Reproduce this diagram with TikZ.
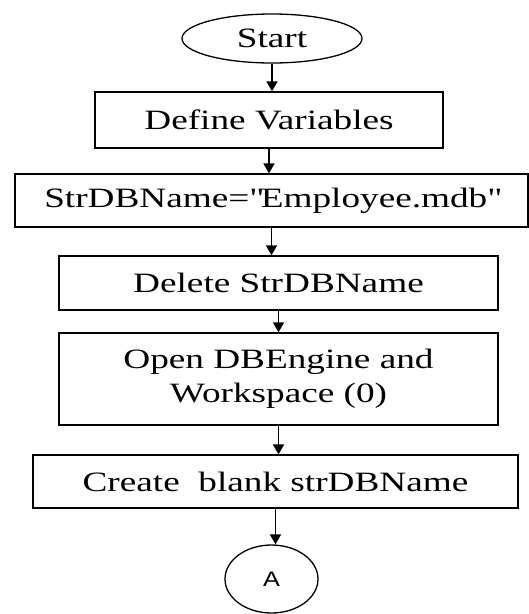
\documentclass[tikz,border=0pt]{standalone}
\usepackage{fontspec}
\setmainfont{Liberation Serif}[FakeStretch=1.33]
\setsansfont{Liberation Sans}[FakeStretch=1.2]
\usetikzlibrary{shapes.geometric,arrows.meta}
\newcommand\straightq{\XeTeXglyph\XeTeXcharglyph"22\relax}
\begin{document}
\begin{tikzpicture}[x=1pt,y=-1pt]
			\tikzstyle{e} = [draw, shape=ellipse, inner sep=0pt, line width=1.3pt]
			\tikzstyle{r} = [draw, shape=rectangle, inner sep=0pt, line width=1.3pt, align=center, font=\fontsize{28}{34}\selectfont]
			\tikzstyle{a} = [-{Triangle[width=11pt,length=10pt]}, line width=1.7pt]
			\useasboundingbox (0,0) rectangle (529,614);
			\node[e, minimum width=180pt, minimum height=49pt, font=\fontsize{28}{34}\selectfont] (start) at (272,38.5) {Start};
			\node[r, minimum width=348pt, minimum height=56pt] (define) at (269,120) {Define Variables};
			\node[r, minimum width=513pt, minimum height=53pt] (dbname) at (271.5,200.5) {StrDBName=\straightq Employee.mdb\straightq};
			\node[r, minimum width=439pt, minimum height=54pt] (delete) at (278.5,283) {Delete StrDBName};
			\node[r, minimum width=439pt, minimum height=92pt] (open) at (278.5,379) {Open DBEngine and\\Workspace (0)};
			\node[r, minimum width=485pt, minimum height=53pt] (create) at (275.5,481.5) {Create~~blank strDBName};
			\node[e, minimum width=93pt, minimum height=68pt, font=\sffamily\fontsize{21}{25}\selectfont] (conA) at (271.5,579) {A};
			\draw[a] (start.south) -- (start.south |- define.north);
			\draw[a] (define.south) -- (define.south |- dbname.north);
			\draw[a] (dbname.south) -- (dbname.south |- delete.north);
			\draw[a] (delete.south) -- (delete.south |- open.north);
			\draw[a] (open.south) -- (open.south |- create.north);
			\draw[a] (create.south) -- (create.south |- conA.north);
\end{tikzpicture}
\end{document}
